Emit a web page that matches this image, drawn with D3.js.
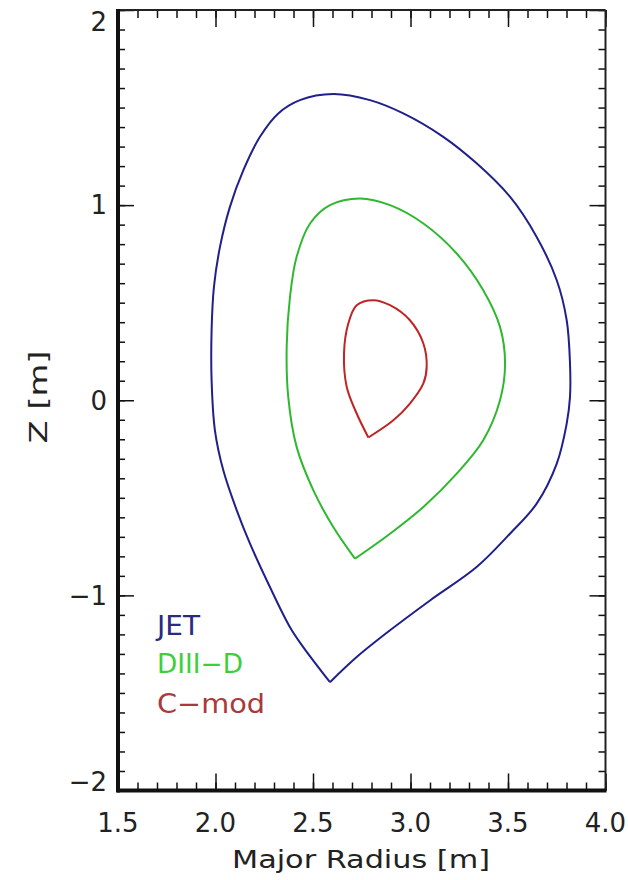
<!DOCTYPE html>
<html>
<head>
<meta charset="utf-8">
<script src="https://cdn.jsdelivr.net/npm/d3@7"></script>
<style>
  body { margin: 0; background: #fff; }
  text { font-family: "DejaVu Sans", sans-serif; fill: #222; }
</style>
</head>
<body>
<div id="chart"></div>
<script>
// flux surface outlines (R in m, Z in m)
var jetR = [2.587, 2.450, 2.382, 2.279, 2.177, 2.109, 2.040, 1.997, 1.980, 1.980, 1.992, 2.023, 2.074, 2.143, 2.228, 2.322, 2.433, 2.604,
            2.792, 2.963, 3.168, 3.339, 3.510, 3.647, 3.750, 3.801, 3.818, 3.818, 3.801, 3.750, 3.647, 3.510, 3.339, 3.100, 2.895, 2.724, 2.587];
var jetZ = [-1.445, -1.265, -1.163, -0.957, -0.735, -0.564, -0.359, -0.154, 0.103, 0.359, 0.581, 0.786, 0.991, 1.179, 1.350, 1.470, 1.538, 1.569,
            1.538, 1.470, 1.350, 1.214, 1.043, 0.837, 0.615, 0.410, 0.188, 0.017, -0.120, -0.325, -0.530, -0.684, -0.855, -1.026, -1.179, -1.316, -1.445];

var d3dR = [2.715, 2.604, 2.502, 2.416, 2.373, 2.365, 2.382, 2.416, 2.485, 2.587, 2.741, 2.895, 3.066, 3.237, 3.373, 3.459, 3.485,
            3.459, 3.373, 3.237, 3.066, 2.895, 2.715];
var d3dZ = [-0.812, -0.650, -0.462, -0.239, 0.017, 0.273, 0.530, 0.735, 0.906, 1.000, 1.034, 1.000, 0.906, 0.752, 0.564, 0.376, 0.188,
            0.000, -0.205, -0.376, -0.547, -0.684, -0.812];

var cmodR = [2.784, 2.724, 2.673, 2.659, 2.681, 2.724, 2.809, 2.895, 2.997, 3.066, 3.083, 3.066, 2.997, 2.912, 2.784];
var cmodZ = [-0.191, -0.068, 0.068, 0.239, 0.393, 0.487, 0.513, 0.487, 0.410, 0.291, 0.171, 0.086, -0.017, -0.103, -0.191];

var names = ["JET", "DIII\u2212D", "C\u2212mod"];
var lineColors = ["#20208a", "#2fb82f", "#c02424"];
var textColors = ["#2a2a80", "#3ccf3c", "#a83a3a"];

var xMajor = [1.5, 2.0, 2.5, 3.0, 3.5, 4.0];
var yMajor = [-2, -1, 0, 1, 2];

var W = 628, H = 880;
var m = {left: 118, right: 22.5, top: 10, bottom: 89.5};

var svg = d3.select("#chart").append("svg")
    .attr("width", W).attr("height", H);

var x = d3.scaleLinear().domain([1.5, 4.0]).range([m.left, W - m.right]);
var y = d3.scaleLinear().domain([-2, 2]).range([H - m.bottom, m.top]);

var xMinor = d3.range(15, 41).map(function(d){ return d / 10; });
var yMinor = d3.range(-20, 21).map(function(d){ return d / 10; });

function tickStyle(g, w) {
  g.select(".domain").remove();
  g.selectAll("line").attr("stroke", "#111").attr("stroke-width", w);
}

// inward ticks on all four sides
svg.append("g").attr("transform", "translate(0," + y(-2) + ")")
  .call(d3.axisBottom(x).tickValues(xMinor).tickSize(-8).tickFormat(""))
  .call(tickStyle, 1.5);
svg.append("g").attr("transform", "translate(0," + y(-2) + ")")
  .call(d3.axisBottom(x).tickValues(xMajor).tickSize(-17).tickFormat(""))
  .call(tickStyle, 1.5);
svg.append("g").attr("transform", "translate(0," + y(2) + ")")
  .call(d3.axisTop(x).tickValues(xMinor).tickSize(-8).tickFormat(""))
  .call(tickStyle, 1.5);
svg.append("g").attr("transform", "translate(0," + y(2) + ")")
  .call(d3.axisTop(x).tickValues(xMajor).tickSize(-17).tickFormat(""))
  .call(tickStyle, 1.5);
svg.append("g").attr("transform", "translate(" + x(1.5) + ",0)")
  .call(d3.axisLeft(y).tickValues(yMinor).tickSize(-7).tickFormat(""))
  .call(tickStyle, 1.5);
svg.append("g").attr("transform", "translate(" + x(1.5) + ",0)")
  .call(d3.axisLeft(y).tickValues(yMajor).tickSize(-16).tickFormat(""))
  .call(tickStyle, 1.5);
svg.append("g").attr("transform", "translate(" + x(4.0) + ",0)")
  .call(d3.axisRight(y).tickValues(yMinor).tickSize(-7).tickFormat(""))
  .call(tickStyle, 1.5);
svg.append("g").attr("transform", "translate(" + x(4.0) + ",0)")
  .call(d3.axisRight(y).tickValues(yMajor).tickSize(-16).tickFormat(""))
  .call(tickStyle, 1.5);

// frame: left and bottom drawn heavier
svg.append("line").attr("x1", x(1.5)).attr("x2", x(4.0)).attr("y1", y(2)).attr("y2", y(2))
  .attr("stroke", "#222").attr("stroke-width", 2);
svg.append("line").attr("x1", x(4.0)).attr("x2", x(4.0)).attr("y1", y(2)).attr("y2", y(-2))
  .attr("stroke", "#222").attr("stroke-width", 2);
svg.append("line").attr("x1", x(1.5) - 1).attr("x2", x(4.0) + 1).attr("y1", y(-2)).attr("y2", y(-2))
  .attr("stroke", "#111").attr("stroke-width", 4);
svg.append("line").attr("x1", x(1.5)).attr("x2", x(1.5)).attr("y1", y(2) - 1).attr("y2", y(-2) + 2)
  .attr("stroke", "#111").attr("stroke-width", 4);

// tick labels
svg.selectAll(".xl").data(xMajor).enter().append("text")
  .attr("x", function(d){ return x(d); })
  .attr("y", 832)
  .attr("text-anchor", "middle")
  .style("font-size", "26px")
  .text(function(d){ return d.toFixed(1); });

svg.selectAll(".yl").data(yMajor).enter().append("text")
  .attr("x", 107)
  .attr("y", function(d){ return Math.min(Math.max(y(d), 22), 782); })
  .attr("dy", "0.36em")
  .attr("text-anchor", "end")
  .style("font-size", "26px")
  .text(function(d){ return d < 0 ? "\u2212" + (-d) : d; });

// axis titles
svg.append("text")
  .attr("x", 361).attr("y", 868)
  .attr("text-anchor", "middle")
  .attr("textLength", 258).attr("lengthAdjust", "spacingAndGlyphs")
  .style("font-size", "24px")
  .text("Major Radius [m]");

svg.append("text")
  .attr("transform", "translate(47,397)rotate(-90)")
  .attr("text-anchor", "middle")
  .attr("textLength", 93).attr("lengthAdjust", "spacingAndGlyphs")
  .style("font-size", "24px")
  .text("Z [m]");

// the three outlines
var line = d3.line()
  .x(function(d){ return x(d[0]); })
  .y(function(d){ return y(d[1]); })
  .curve(d3.curveCatmullRom.alpha(0.5));

var shapes = [d3.zip(jetR, jetZ), d3.zip(d3dR, d3dZ), d3.zip(cmodR, cmodZ)];

svg.selectAll(".shape").data(shapes).enter().append("path")
  .attr("d", line)
  .attr("fill", "none")
  .attr("stroke", function(d, i){ return lineColors[i]; })
  .attr("stroke-width", 2)
  .attr("stroke-linejoin", "miter");

// legend
var legendY = [635, 673, 713];
var legendW = [43, 86, 108];
svg.selectAll(".leg").data(names).enter().append("text")
  .attr("x", 157)
  .attr("y", function(d, i){ return legendY[i]; })
  .attr("textLength", function(d, i){ return legendW[i]; })
  .attr("lengthAdjust", "spacingAndGlyphs")
  .style("font-size", "26px")
  .style("fill", function(d, i){ return textColors[i]; })
  .text(function(d){ return d; });
</script>
</body>
</html>
